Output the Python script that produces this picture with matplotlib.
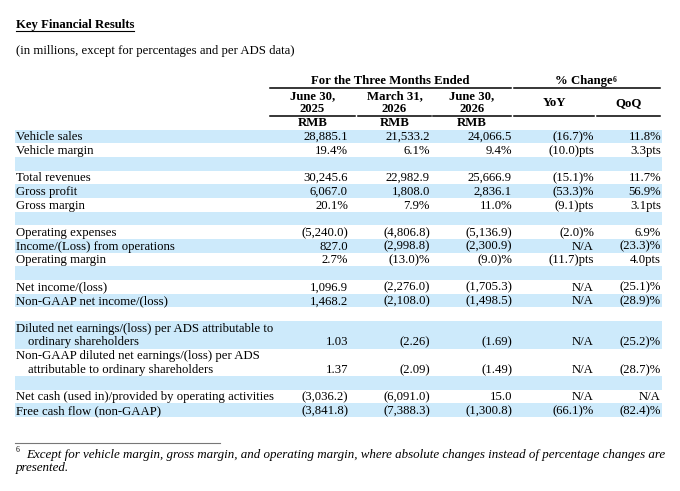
import matplotlib
matplotlib.use("Agg")
import matplotlib.pyplot as plt

# ---------------- data ----------------
title = "Key Financial Results"
subtitle = "(in millions, except for percentages and per ADS data)"
group_headers = ["For the Three Months Ended", "% Change"]
period_headers = [("June 30,", "2025"), ("March 31,", "2026"), ("June 30,", "2026")]
change_headers = ["YoY", "QoQ"]
currency = ["RMB", "RMB", "RMB"]

row_labels = [
    "Vehicle sales",
    "Vehicle margin",
    "Total revenues",
    "Gross profit",
    "Gross margin",
    "Operating expenses",
    "Income/(Loss) from operations",
    "Operating margin",
    "Net income/(loss)",
    "Non-GAAP net income/(loss)",
    "Diluted net earnings/(loss) per ADS attributable to\nordinary shareholders",
    "Non-GAAP diluted net earnings/(loss) per ADS\nattributable to ordinary shareholders",
    "Net cash (used in)/provided by operating activities",
    "Free cash flow (non-GAAP)",
]
jun_2025 = ["28,885.1", "19.4%", "30,245.6", "6,067.0", "20.1%", "(5,240.0)", "827.0",
            "2.7%", "1,096.9", "1,468.2", "1.03", "1.37", "(3,036.2)", "(3,841.8)"]
mar_2026 = ["21,533.2", "6.1%", "22,982.9", "1,808.0", "7.9%", "(4,806.8)", "(2,998.8)",
            "(13.0)%", "(2,276.0)", "(2,108.0)", "(2.26)", "(2.09)", "(6,091.0)", "(7,388.3)"]
jun_2026 = ["24,066.5", "9.4%", "25,666.9", "2,836.1", "11.0%", "(5,136.9)", "(2,300.9)",
            "(9.0)%", "(1,705.3)", "(1,498.5)", "(1.69)", "(1.49)", "15.0", "(1,300.8)"]
yoy = ["(16.7)%", "(10.0)pts", "(15.1)%", "(53.3)%", "(9.1)pts", "(2.0)%", "N/A",
       "(11.7)pts", "N/A", "N/A", "N/A", "N/A", "N/A", "(66.1)%"]
qoq = ["11.8%", "3.3pts", "11.7%", "56.9%", "3.1pts", "6.9%", "(23.3)%",
       "4.0pts", "(25.1)%", "(28.9)%", "(25.2)%", "(28.7)%", "N/A", "(82.4)%"]
footnote = ["Except for vehicle margin, gross margin, and operating margin, where absolute changes instead of percentage changes are",
            "presented."]

# layout: sequence of rows (index into data or None for spacer)
layout = [0, 1, None, 2, 3, 4, None, 5, 6, 7, None, 8, 9, None, 10, 11, None, 12, 13]

# ---------------- drawing ----------------
W, H = 680, 491
fig = plt.figure(figsize=(W / 100, H / 100), dpi=100)
ax = fig.add_axes([0, 0, 1, 1])
ax.set_xlim(0, W)
ax.set_ylim(H, 0)
ax.axis("off")

FONT = "Liberation Serif"
FS = 9.2
BLUE = "#CDEAFB"
BL = 3.8          # baseline offset below visual centre (px)
left = 15.5
indent = 28.5
band_l, band_r = 15, 662
col_right = [348, 430, 512, 594, 661]
seg = [(270, 355), (358, 431), (433, 511), (514, 594), (597, 660)]


def txt(x, yc, s, **kw):
    kw.setdefault("fontsize", FS)
    kw.setdefault("family", FONT)
    return ax.text(x, yc + BL, s, va="baseline", **kw)


# title with underline
t = txt(left, 24, title, fontweight="bold", ha="left")
fig.canvas.draw()
bb = t.get_window_extent().transformed(ax.transData.inverted())
ax.plot([bb.x0, bb.x1], [30.5, 30.5], color="black", lw=0.8)

txt(left, 50, subtitle, ha="left")

# group headers
txt((seg[0][0] + seg[2][1]) / 2, 80, group_headers[0], fontweight="bold", ha="center")
g2 = txt((seg[3][0] + seg[4][1]) / 2 - 3, 80, group_headers[1], fontweight="bold", ha="center")
ax.annotate("6", xy=(1, 0.93), xycoords=g2, fontsize=5.5, fontweight="bold", family=FONT,
            ha="left", va="top", xytext=(0.3, 0), textcoords="offset points")
ax.plot([seg[0][0], seg[2][1]], [87.5, 87.5], color="black", lw=1.1)
ax.plot([seg[3][0], seg[4][1]], [87.5, 87.5], color="black", lw=1.1)

for i, (h1, h2) in enumerate(period_headers):
    cx = (seg[i][0] + seg[i][1]) / 2
    txt(cx, 95, h1, fontweight="bold", ha="center")
    txt(cx, 108.5, h2, fontweight="bold", ha="center")
    txt(cx, 122.5, currency[i], fontweight="bold", ha="center")
for j, h in enumerate(change_headers):
    cx = (seg[3 + j][0] + seg[3 + j][1]) / 2
    txt(cx, 102, h, fontweight="bold", ha="center")
for a, b in seg:
    ax.plot([a, b], [115.5, 115.5], color="black", lw=1.1)

# body
pitch = 13.69
y = 129.5
for k, item in enumerate(layout):
    nlines = 1 if item is None else row_labels[item].count("\n") + 1
    h = nlines * pitch
    if k % 2 == 0:
        ax.add_patch(plt.Rectangle((band_l, y), band_r - band_l, h, color=BLUE, lw=0, zorder=0))
    if item is not None:
        for li, ln in enumerate(row_labels[item].split("\n")):
            txt(left if li == 0 else indent, y + (li + 0.5) * pitch, ln, ha="left")
        vy = y + (nlines - 0.5) * pitch
        for c, vals in enumerate([jun_2025, mar_2026, jun_2026, yoy, qoq]):
            txt(col_right[c], vy, vals[item], ha="right")
    y += h

# footnote
ax.plot([15, 220], [442.5, 442.5], color="#777777", lw=0.8)
ax.text(16, 452, "6", fontsize=5.5, family=FONT, ha="left", va="baseline")
txt(26, 454, footnote[0], style="italic", ha="left", fontsize=9.35)
txt(16, 467.5, footnote[1], style="italic", ha="left", fontsize=9.35)

fig.savefig("out.png", dpi=100)
